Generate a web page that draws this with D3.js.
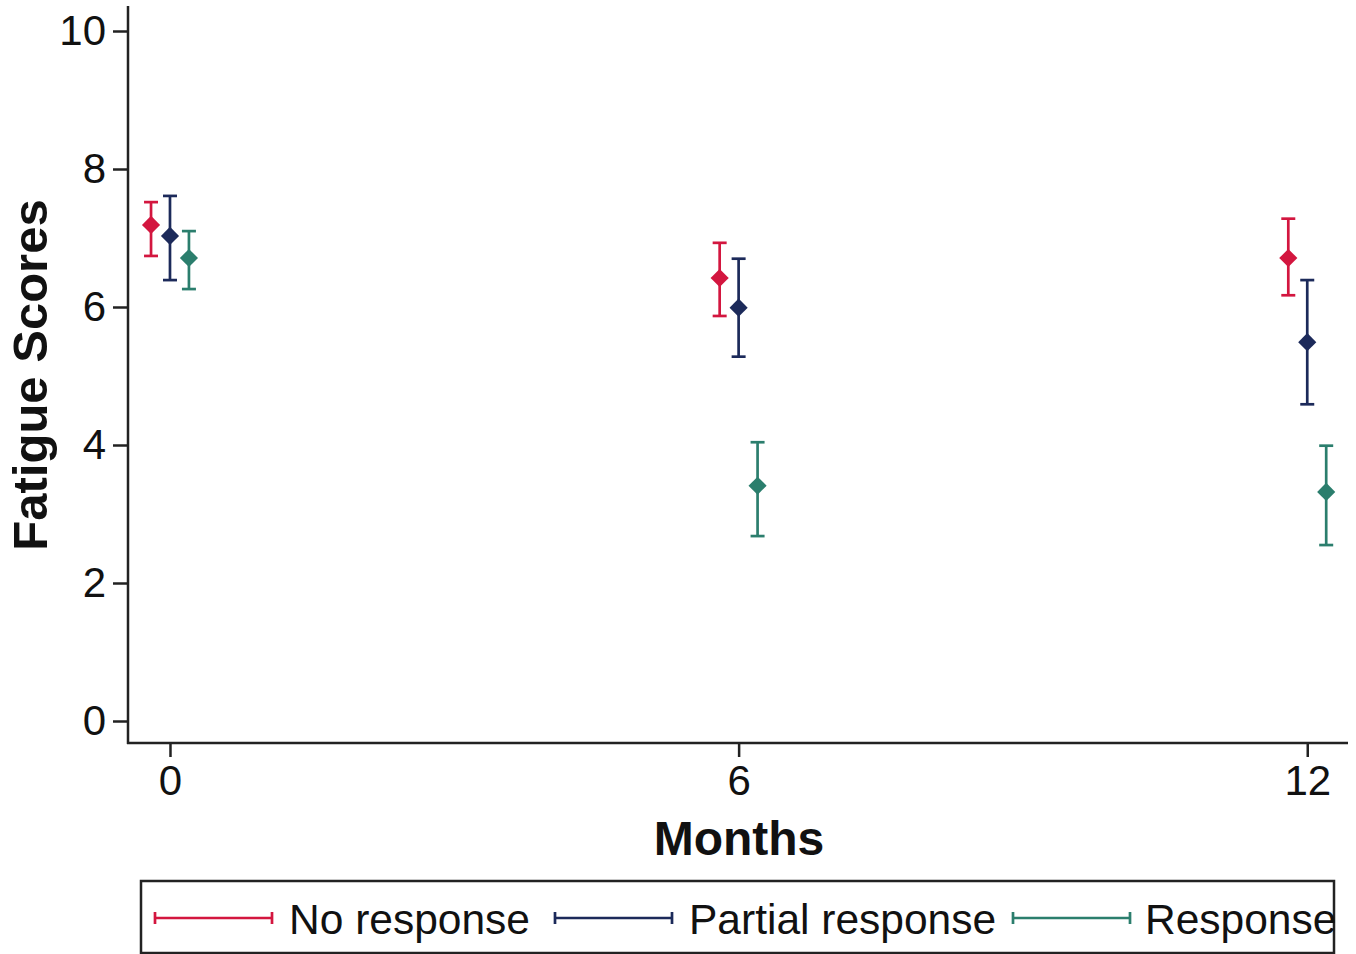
<!DOCTYPE html>
<html><head><meta charset="utf-8">
<script src="https://cdn.jsdelivr.net/npm/d3@7/dist/d3.min.js"></script>
<style>body{margin:0;background:#fff}svg{display:block}text{font-family:"Liberation Sans",Arial,sans-serif;fill:#111}</style>
</head><body><svg id="c" width="1356" height="954"></svg>
<script>
const months = [0, 6, 12];
const groups = ["No response", "Partial response", "Response"];
const colors = ["#d3163f", "#1c2a5a", "#2b7e6d"];
const offsets = [-0.2, 0, 0.2];
const noResp = {mean:[7.19, 6.42, 6.71], lo:[6.74, 5.87, 6.17], hi:[7.52, 6.93, 7.28]};
const partialResp = {mean:[7.03, 5.99, 5.49], lo:[6.39, 5.28, 4.59], hi:[7.61, 6.70, 6.39]};
const resp = {mean:[6.71, 3.41, 3.32], lo:[6.26, 2.68, 2.55], hi:[7.10, 4.04, 3.99]};
const yTicks = [0, 2, 4, 6, 8, 10];
const xTicks = [0, 6, 12];
const series = [noResp, partialResp, resp];

const svg = d3.select("#c");
const x = d3.scaleLinear().domain([-0.443, 12.43]).range([128, 1348]);
const y = d3.scaleLinear().domain([0, 10]).range([721, 31]);

// axes
const yAx = svg.append("g").attr("transform","translate(128,0)")
  .call(d3.axisLeft(y).tickValues(yTicks).tickSize(15).tickPadding(7).tickFormat(d3.format("d")));
const xAx = svg.append("g").attr("transform","translate(0,743)")
  .call(d3.axisBottom(x).tickValues(xTicks).tickSize(14).tickPadding(8).tickFormat(d3.format("d")));
[yAx, xAx].forEach(a => {
  a.select(".domain").remove();
  a.selectAll(".tick line").attr("stroke","#222").attr("stroke-width",2.5);
  a.selectAll(".tick text").attr("font-size",42).style("font-family","Liberation Sans, Arial, sans-serif").attr("fill","#111");
});
svg.append("line").attr("x1",128).attr("x2",128).attr("y1",6).attr("y2",744).attr("stroke","#222").attr("stroke-width",2.5);
svg.append("line").attr("x1",127).attr("x2",1348).attr("y1",743).attr("y2",743).attr("stroke","#222").attr("stroke-width",2.5);

// titles
svg.append("text").attr("transform","translate(47,375) rotate(-90)").attr("text-anchor","middle")
  .attr("font-size",49).attr("font-weight","bold").text("Fatigue Scores");
svg.append("text").attr("x",739).attr("y",855).attr("text-anchor","middle")
  .attr("font-size",48).attr("font-weight","bold").text("Months");

// error bars
const cap = 7;
series.forEach((s, gi) => {
  const g = svg.append("g");
  months.forEach((m, i) => {
    const cx = x(m + offsets[gi]);
    g.append("line").attr("x1",cx).attr("x2",cx).attr("y1",y(s.lo[i])).attr("y2",y(s.hi[i]))
      .attr("stroke",colors[gi]).attr("stroke-width",2.7);
    [s.lo[i], s.hi[i]].forEach(v => g.append("line").attr("x1",cx-cap).attr("x2",cx+cap)
      .attr("y1",y(v)).attr("y2",y(v)).attr("stroke",colors[gi]).attr("stroke-width",2.7));
    g.append("path").attr("d", d3.symbol().type(d3.symbolDiamond2 || d3.symbolDiamond).size(210)())
      .attr("transform",`translate(${cx},${y(s.mean[i])})`)
      .attr("fill",colors[gi]);
  });
});

// legend
svg.append("rect").attr("x",141).attr("y",881).attr("width",1193).attr("height",72)
  .attr("fill","none").attr("stroke","#222").attr("stroke-width",2.5);
const legX = [155, 555, 1013];
const legTextX = [289, 689, 1145];
groups.forEach((gname, gi) => {
  const lx = legX[gi], ly = 918, w = 117;
  svg.append("line").attr("x1",lx).attr("x2",lx+w).attr("y1",ly).attr("y2",ly).attr("stroke",colors[gi]).attr("stroke-width",2.7);
  [lx, lx+w].forEach(px => svg.append("line").attr("x1",px).attr("x2",px).attr("y1",ly-6).attr("y2",ly+6).attr("stroke",colors[gi]).attr("stroke-width",2.7));
  svg.append("text").attr("x",legTextX[gi]).attr("y",934).attr("font-size",42.5).text(gname);
});
</script></body></html>
